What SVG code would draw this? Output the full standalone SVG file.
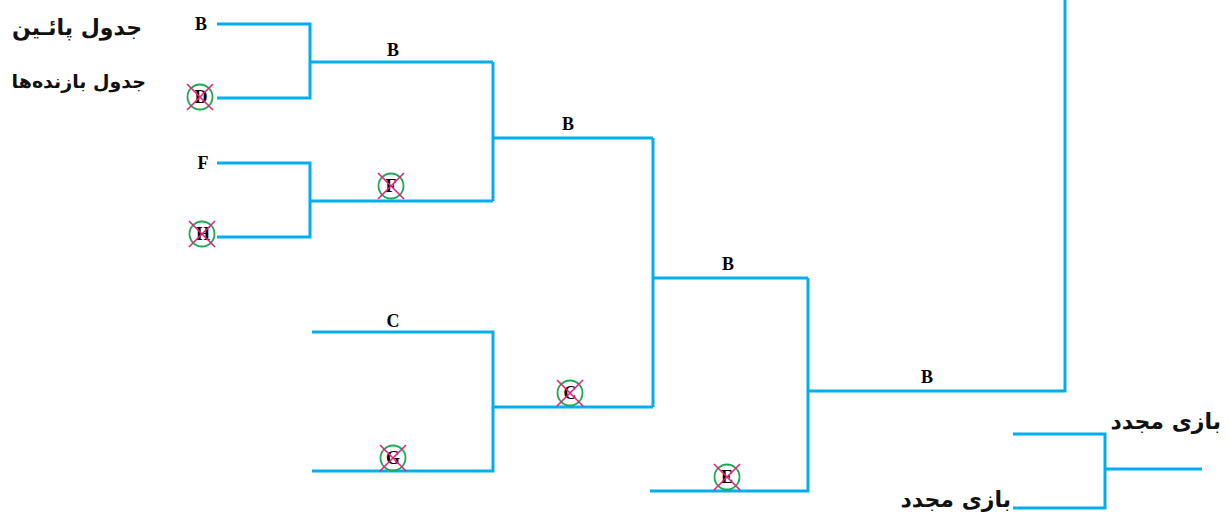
<svg xmlns="http://www.w3.org/2000/svg" width="1230" height="518" viewBox="0 0 1230 518">
<defs>
<style>
.ln{fill:none;stroke:#00AEEF;stroke-width:3;stroke-linejoin:miter}
.lt{font-family:"Liberation Serif",serif;font-weight:bold;font-size:18px;fill:#000;text-anchor:middle}
.fa{font-family:"DejaVu Sans","Noto Sans",sans-serif;font-weight:bold;font-size:22px;fill:#111;direction:rtl}
.ck{fill:none;stroke:#1DA851;stroke-width:1.8}
.cx{stroke:#EC1C7A;stroke-width:1.6}
</style>
<g id="x"><circle class="ck" cx="0" cy="0" r="12.5"/><line class="cx" x1="-13" y1="-13" x2="13" y2="13"/><line class="cx" x1="13" y1="-13" x2="-13" y2="13"/></g>
</defs>
<rect width="1230" height="518" fill="#fff"/>
<g id="connectors">
<path class="ln" d="M217 24H310V98H217M310 62H493"/>
<path class="ln" d="M217 163H310V237H217M310 201H493"/>
<path class="ln" d="M493 62V201M493 138H653"/>
<path class="ln" d="M312 332H493V471H312M493 407H653"/>
<path class="ln" d="M653 138V407M653 278H808"/>
<path class="ln" d="M650 491H808V278M808 391H1065V0"/>
<path class="ln" d="M1013 434H1105V508H1013M1105 469H1202"/>
</g>
<g id="titles">
<text class="fa" x="142" y="35" text-anchor="start">جدول پائـین</text>
<text class="fa" x="146" y="88" text-anchor="start" style="font-size:19px">جدول بازنده‌ها</text>
</g>
<g id="n-B1"><text class="lt" x="201" y="30">B</text></g>
<g id="n-D"><text class="lt" x="201" y="103">D</text><use href="#x" x="200" y="97"/></g>
<g id="n-F"><text class="lt" x="203" y="169">F</text></g>
<g id="n-H"><text class="lt" x="203" y="240">H</text><use href="#x" x="202" y="234"/></g>
<g id="n-B2"><text class="lt" x="393" y="56">B</text></g>
<g id="n-F2"><text class="lt" x="391" y="192">F</text><use href="#x" x="391" y="186"/></g>
<g id="n-B3"><text class="lt" x="568" y="130">B</text></g>
<g id="n-C"><text class="lt" x="393" y="327">C</text></g>
<g id="n-G"><text class="lt" x="393" y="464">G</text><use href="#x" x="393" y="458"/></g>
<g id="n-C2"><text class="lt" x="570" y="399">C</text><use href="#x" x="570" y="393"/></g>
<g id="n-B4"><text class="lt" x="728" y="270">B</text></g>
<g id="n-E"><text class="lt" x="727" y="483">E</text><use href="#x" x="727" y="477"/></g>
<g id="n-B5"><text class="lt" x="927" y="383">B</text></g>
<g id="n-R1"><text class="fa" x="1221" y="429" text-anchor="start">بازی مجدد</text></g>
<g id="n-R2"><text class="fa" x="1011" y="507" text-anchor="start">بازی مجدد</text></g>
</svg>
